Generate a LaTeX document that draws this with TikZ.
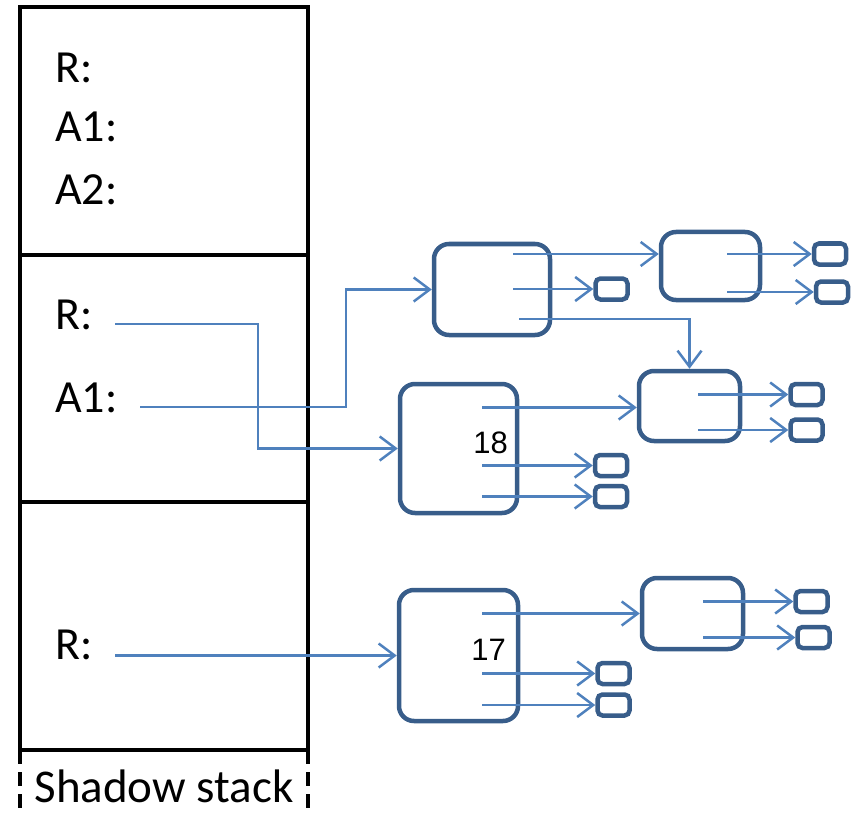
\documentclass[tikz,border=0pt]{standalone}
\usepackage{fontspec}
\setmainfont{Carlito}
\newfontfamily\numfont{Liberation Sans}
\usetikzlibrary{arrows.meta,positioning}
\definecolor{ObjBlue}{RGB}{56,93,138}
\definecolor{PtrBlue}{RGB}{79,129,189}

\begin{document}
\begin{tikzpicture}[
    x=1pt, y=-1pt,
    frame/.style={draw, line width=4.5pt, minimum width=288pt, minimum height=248pt, anchor=north west, inner sep=0pt, outer sep=0pt},
    varname/.style={anchor=base west, inner sep=0pt, font=\fontsize{46}{52}\selectfont},
    obj/.style={draw=ObjBlue, line width=4.5pt, rounded corners=15pt, inner sep=0pt},
    slot/.style={draw=ObjBlue, line width=4.5pt, rounded corners=5pt, minimum width=32pt, minimum height=21pt, inner sep=0pt},
    num/.style={anchor=base east, inner sep=0pt, font=\numfont\fontsize{31}{36}\selectfont},
    ptr/.style={-{Straight Barb[length=16pt,width=24pt]}, draw=PtrBlue, line width=2.5pt}
  ]
    \useasboundingbox (0,0) rectangle (862,813);

    % shadow stack frames
    \node[frame] (frame1) at (20,7) {};
    \node[frame, minimum height=247pt] (frame2) at (20,255) {};
    \node[frame] (frame3) at (20,502) {};
    \draw[line width=4.5pt, dash pattern=on 14pt off 8pt] (frame3.south west) -- ++(0,61);
    \draw[line width=4.5pt, dash pattern=on 14pt off 8pt] (frame3.south east) -- ++(0,61);
    \node[font=\fontsize{47}{54}\selectfont, inner sep=0pt] (caption) at (164,786) {Shadow stack};

    \node[varname] (r1) at (55,83) {R:};
    \node[varname] (a11) at (55,142) {A1:};
    \node[varname] (a21) at (55,205) {A2:};
    \node[varname] (r2) at (55,329) {R:};
    \node[varname] (a12) at (55,412) {A1:};
    \node[varname] (r3) at (55,659) {R:};

    % heap objects
    \node[obj, minimum width=116pt, minimum height=91pt] (objA) at (492,289.5) {};
    \node[obj, minimum width=99pt, minimum height=68pt] (objB) at (710.5,266) {};
    \node[obj, minimum width=101pt, minimum height=70pt] (objC) at (689.5,406) {};
    \node[obj, minimum width=117pt, minimum height=129pt] (objD) at (458.5,448.5) {};
    \node[obj, minimum width=119pt, minimum height=131pt] (objE) at (458.5,655.5) {};
    \node[obj, minimum width=101pt, minimum height=71pt] (objF) at (692.5,613.5) {};
    \node[num] (n18) at (508,453) {18};
    \node[num] (n17) at (506,660) {17};

    \node[slot] (As) at (611.5,289) {};
    \node[slot] (Bs1) at (830,254) {};
    \node[slot] (Bs2) at (832,292) {};
    \node[slot] (Cs1) at (806.5,394.5) {};
    \node[slot] (Cs2) at (806.5,430) {};
    \node[slot] (Ds1) at (611,465.5) {};
    \node[slot] (Ds2) at (611,496.5) {};
    \node[slot] (Es1) at (613.5,673.5) {};
    \node[slot] (Es2) at (613.5,705) {};
    \node[slot] (Fs1) at (811.5,601.5) {};
    \node[slot] (Fs2) at (813.5,637.5) {};

    % field origins
    \coordinate (Ax) at ([xshift=21pt]objA.center);
    \coordinate (Bx) at ([xshift=16.5pt]objB.center);
    \coordinate (Cx) at ([xshift=8.5pt]objC.center);
    \coordinate (Dx) at ([xshift=23.5pt]objD.center);
    \coordinate (Ex) at ([xshift=23.5pt]objE.center);
    \coordinate (Fx) at ([xshift=10.5pt]objF.center);
    \coordinate (Bin) at ([yshift=12pt]objB.west);
    \coordinate (Rp) at (115,324);
    \coordinate (A1p) at (140,407);
    \coordinate (Rq) at (115,655.5);

    % roots
    \draw[ptr] (Rp) -- ++(143,0) |- (objD.west);
    \draw[ptr] (A1p) -- ++(206,0) |- (objA.west);
    \draw[ptr] (Rq) -- (objE.west);

    % pointers between objects
    \draw[ptr] (Ax |- Bin) -- (Bin);
    \draw[ptr] (Ax |- As.west) -- (As.west);
    \draw[ptr] ([xshift=6pt,yshift=-29.5pt]Ax) -| (objC.north);
    \draw[ptr] (Bx |- Bs1.west) -- (Bs1.west);
    \draw[ptr] (Bx |- Bs2.west) -- (Bs2.west);
    \draw[ptr] (Cx |- Cs1.west) -- (Cs1.west);
    \draw[ptr] (Cx |- Cs2.west) -- (Cs2.west);
    \draw[ptr] ([yshift=-1.5pt]Dx |- objC.west) -- ([yshift=-1.5pt]objC.west);
    \draw[ptr] (Dx |- Ds1.west) -- (Ds1.west);
    \draw[ptr] (Dx |- Ds2.west) -- (Ds2.west);
    \draw[ptr] (Ex |- objF.west) -- (objF.west);
    \draw[ptr] (Ex |- Es1.west) -- (Es1.west);
    \draw[ptr] (Ex |- Es2.west) -- (Es2.west);
    \draw[ptr] (Fx |- Fs1.west) -- (Fs1.west);
    \draw[ptr] (Fx |- Fs2.west) -- (Fs2.west);
  \end{tikzpicture}
\end{document}
